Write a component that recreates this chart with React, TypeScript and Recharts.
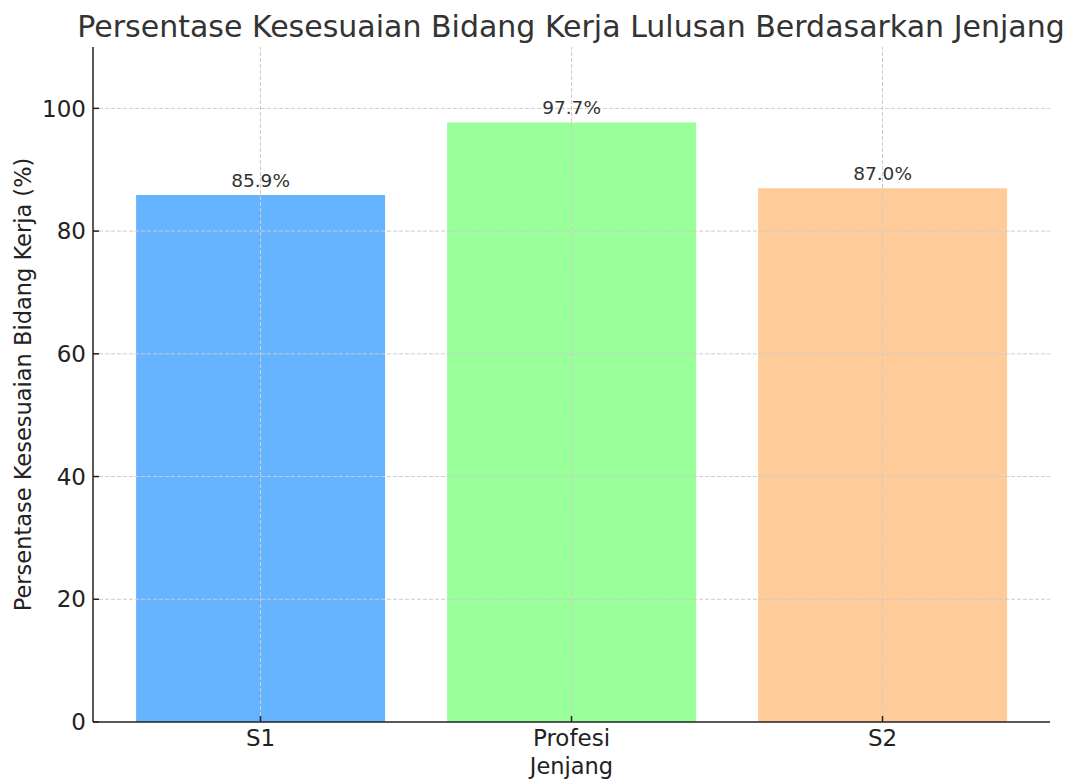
import React from 'react';
import {
  BarChart,
  Bar,
  XAxis,
  YAxis,
  Cell,
  LabelList,
  ReferenceLine,
} from 'recharts';

const categories = ['S1', 'Profesi', 'S2'];
const persentase = [85.9, 97.7, 87.0];
const barColors = ['#66b3ff', '#99ff99', '#ffcc99'];
const yTicks = [0, 20, 40, 60, 80, 100];

const FONT = '"DejaVu Sans", Verdana, sans-serif';
const GRID = '#cccccc';

const data = categories.map((c, i) => ({ jenjang: c, persen: persentase[i] }));

const renderValueLabel = (props: any) => {
  const { x, y, width, value } = props;
  return (
    <text
      x={x + width / 2}
      y={y - 8}
      textAnchor="middle"
      fontSize={18.5}
      fontFamily={FONT}
      fill="#333333"
    >
      {`${Number(value).toFixed(1)}%`}
    </text>
  );
};

const renderYLabel = (props: any) => {
  const { viewBox } = props;
  const cx = 23;
  const cy = viewBox.y + viewBox.height / 2;
  return (
    <text
      x={cx}
      y={cy}
      transform={`rotate(-90, ${cx}, ${cy})`}
      textAnchor="middle"
      dominantBaseline="central"
      fontSize={22.5}
      fontFamily={FONT}
      fill="#222222"
    >
      Persentase Kesesuaian Bidang Kerja (%)
    </text>
  );
};

const renderXLabel = (props: any) => {
  const { viewBox } = props;
  return (
    <text
      x={viewBox.x + viewBox.width / 2}
      y={774}
      textAnchor="middle"
      fontSize={22.5}
      fontFamily={FONT}
      fill="#222222"
    >
      Jenjang
    </text>
  );
};

export default function App() {
  return (
    <div style={{ position: 'absolute', left: 0, top: 0, width: 1069, height: 780, background: '#fff' }}>
      <svg
        width={1069}
        height={47}
        style={{ position: 'absolute', left: 0, top: 0 }}
      >
        <text
          x={571}
          y={37}
          textAnchor="middle"
          fontSize={30}
          fontFamily={FONT}
          fill="#333333"
        >
          Persentase Kesesuaian Bidang Kerja Lulusan Berdasarkan Jenjang
        </text>
      </svg>
      <BarChart
        width={1069}
        height={780}
        data={data}
        margin={{ top: 47, right: 19, bottom: 0, left: 0 }}
        barCategoryGap="10%"
      >
        <XAxis
          dataKey="jenjang"
          height={58}
          padding={{ left: 12, right: 12 }}
          tick={{ fontSize: 23, fontFamily: FONT, fill: '#222222' }}
          tickSize={-6}
          tickMargin={14}
          tickLine={{ stroke: '#222222', strokeWidth: 1.5 }}
          axisLine={{ stroke: '#222222', strokeWidth: 1.5 }}
          label={{ content: renderXLabel }}
        />
        <YAxis
          width={93}
          domain={[0, 110]}
          ticks={yTicks}
          allowDataOverflow
          tick={{ fontSize: 23, fontFamily: FONT, fill: '#222222' }}
          tickSize={-6}
          tickMargin={13}
          tickLine={{ stroke: '#222222', strokeWidth: 1.5 }}
          axisLine={{ stroke: '#222222', strokeWidth: 1.5 }}
          label={{ content: renderYLabel }}
        />
        <Bar dataKey="persen" isAnimationActive={false}>
          {data.map((d, i) => (
            <Cell key={d.jenjang} fill={barColors[i]} />
          ))}
          <LabelList dataKey="persen" content={renderValueLabel} />
        </Bar>
        {yTicks.slice(1).map((t) => (
          <ReferenceLine key={`h-${t}`} y={t} stroke={GRID} strokeDasharray="4 2" strokeWidth={1} />
        ))}
        {categories.map((c) => (
          <ReferenceLine key={`v-${c}`} x={c} stroke={GRID} strokeDasharray="4 2" strokeWidth={1} />
        ))}
      </BarChart>
    </div>
  );
}
